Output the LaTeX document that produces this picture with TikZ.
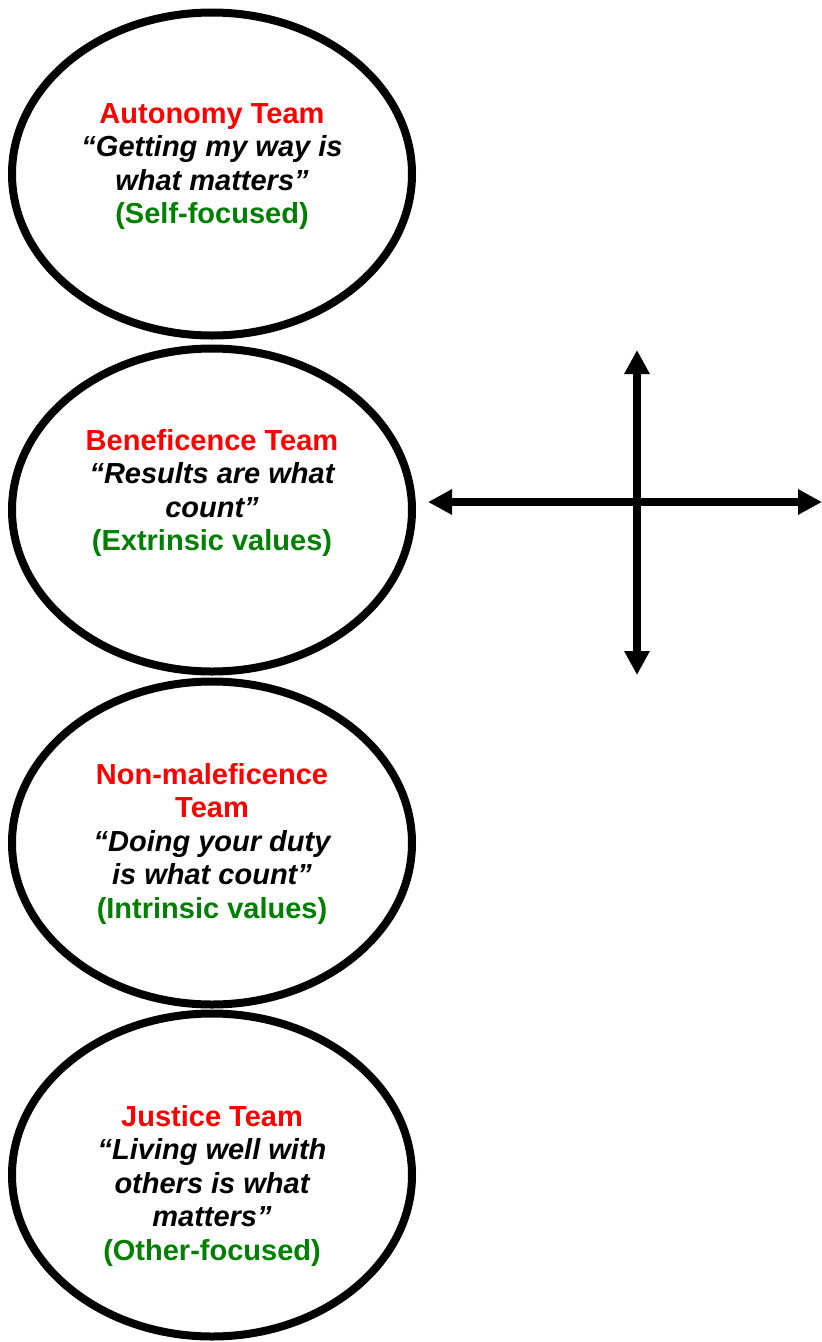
\documentclass[tikz,border=0pt]{standalone}
\usepackage{fontspec}
\setmainfont{Liberation Sans}
\usetikzlibrary{shapes.geometric,arrows.meta}
\definecolor{teamred}{RGB}{255,0,0}
\definecolor{teamgreen}{RGB}{0,128,0}
\newcommand\tname[1]{\textcolor{teamred}{#1}}
\newcommand\tquote[1]{{\itshape #1}}
\newcommand\tfocus[1]{\textcolor{teamgreen}{#1}}
\begin{document}
\begin{tikzpicture}[x=1pt,y=-1pt,
  team/.style={ellipse, draw=black, line width=8pt, minimum width=400pt, minimum height=323pt, inner sep=0pt},
  teamtext/.style={anchor=north, align=center, inner sep=0pt, font=\fontsize{29}{33.5}\selectfont\bfseries},
  axis/.style={line width=8pt, {Triangle[length=24pt,width=24pt]}-{Triangle[length=24pt,width=24pt]}}]
\useasboundingbox (0,0) rectangle (822,1342);
\node[team] (e1) at (212,174) {};
\node[team] (e2) at (212,510) {};
\node[team] (e3) at (212,843) {};
\node[team] (e4) at (212,1175) {};
\node[teamtext] (t1) at (212,103) {\tname{Autonomy Team}\\\tquote{“Getting my way is}\\\tquote{what matters”}\\\tfocus{(Self-focused)}};
\node[teamtext] (t2) at (212,429) {\tname{Beneficence Team}\\\tquote{“Results are what}\\\tquote{count”}\\\tfocus{(Extrinsic values)}};
\node[teamtext] (t3) at (212,763) {\tname{Non-maleficence}\\\tname{Team}\\\tquote{“Doing your duty}\\\tquote{is what count”}\\\tfocus{(Intrinsic values)}};
\node[teamtext] (t4) at (212,1105) {\tname{Justice Team}\\\tquote{“Living well with}\\\tquote{others is what}\\\tquote{matters”}\\\tfocus{(Other-focused)}};
\coordinate (hl) at (428,502);
\coordinate (hr) at (822,502);
\coordinate (vt) at (637,350);
\coordinate (vb) at (637,675);
\draw[axis] (hl) -- (hr);
\draw[axis] (vt) -- (vb);
\end{tikzpicture}
\end{document}
